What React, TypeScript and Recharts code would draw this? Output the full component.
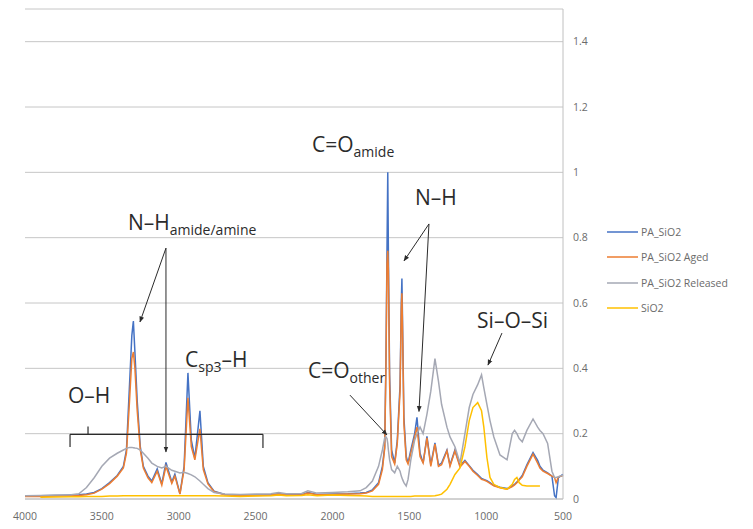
import {
  CartesianGrid,
  Line,
  LineChart,
  ReferenceDot,
  ReferenceLine,
  XAxis,
  YAxis,
} from 'recharts'

// wavenumber (cm-1) grid
const wavenumbers = [
  4000, 3900, 3800, 3700, 3650, 3600, 3550, 3500, 3450, 3400,
  3360, 3340, 3320, 3305, 3295, 3285, 3270, 3250, 3230, 3200,
  3175, 3140, 3110, 3083, 3045, 3025, 2992, 2965, 2940, 2918,
  2895, 2862, 2840, 2810, 2770, 2700, 2600, 2500, 2400, 2350,
  2300, 2200, 2160, 2100, 2000, 1900, 1820, 1780, 1740, 1700,
  1675, 1660, 1652, 1645, 1640, 1636, 1628, 1615, 1595, 1578,
  1560, 1552, 1548, 1544, 1535, 1520, 1508, 1490, 1465, 1450,
  1430, 1410, 1385, 1360, 1333, 1310, 1290, 1255, 1235, 1203,
  1170, 1138, 1110, 1086, 1055, 1030, 1015, 995, 975, 950,
  910, 864, 830, 815, 800, 785, 765, 735, 695, 665,
  650, 630, 600, 572, 555, 545, 530, 510, 500,
]

const paSiO2 = [
  0.010, 0.010, 0.011, 0.012, 0.013, 0.015, 0.020, 0.032, 0.050, 0.072,
  0.100, 0.150, 0.350, 0.500, 0.545, 0.450, 0.300, 0.160, 0.100, 0.070,
  0.055, 0.092, 0.046, 0.112, 0.052, 0.076, 0.016, 0.100, 0.386, 0.180,
  0.125, 0.270, 0.100, 0.050, 0.024, 0.014, 0.012, 0.012, 0.013, 0.016,
  0.013, 0.013, 0.020, 0.014, 0.015, 0.016, 0.018, 0.020, 0.028, 0.050,
  0.100, 0.160, 0.420, 0.760, 1.000, 0.760, 0.380, 0.150, 0.110, 0.180,
  0.350, 0.600, 0.675, 0.550, 0.250, 0.130, 0.110, 0.150, 0.200, 0.250,
  0.140, 0.110, 0.192, 0.105, 0.172, 0.104, 0.110, 0.150, 0.104, 0.150,
  0.102, 0.118, 0.102, 0.088, 0.075, 0.063, 0.060, 0.056, 0.050, 0.042,
  0.036, 0.032, 0.040, 0.045, 0.052, 0.060, 0.072, 0.105, 0.142, 0.118,
  0.100, 0.088, 0.080, 0.070, 0.010, 0.004, 0.065, 0.072, 0.075,
]

const paSiO2Aged = [
  0.008, 0.008, 0.009, 0.010, 0.011, 0.013, 0.018, 0.030, 0.047, 0.070,
  0.095, 0.140, 0.300, 0.430, 0.450, 0.400, 0.270, 0.150, 0.095, 0.065,
  0.050, 0.085, 0.042, 0.100, 0.048, 0.070, 0.015, 0.090, 0.310, 0.160,
  0.120, 0.215, 0.090, 0.046, 0.022, 0.013, 0.011, 0.011, 0.012, 0.015,
  0.012, 0.012, 0.018, 0.013, 0.014, 0.015, 0.016, 0.018, 0.025, 0.045,
  0.090, 0.155, 0.400, 0.720, 0.760, 0.700, 0.350, 0.130, 0.107, 0.170,
  0.330, 0.580, 0.630, 0.520, 0.230, 0.120, 0.107, 0.140, 0.190, 0.220,
  0.130, 0.110, 0.187, 0.100, 0.168, 0.100, 0.105, 0.147, 0.100, 0.147,
  0.098, 0.115, 0.100, 0.085, 0.072, 0.060, 0.058, 0.054, 0.048, 0.040,
  0.034, 0.030, 0.038, 0.043, 0.050, 0.058, 0.068, 0.100, 0.137, 0.110,
  0.095, 0.085, 0.078, 0.070, 0.066, 0.050, 0.068, 0.070, 0.072,
]

const paSiO2Released = [
  0.010, 0.011, 0.012, 0.013, 0.016, 0.035, 0.065, 0.100, 0.125, 0.140,
  0.150, 0.155, 0.158, 0.158, 0.157, 0.156, 0.155, 0.150, 0.140, 0.125,
  0.110, 0.100, 0.095, 0.100, 0.088, 0.085, 0.080, 0.082, 0.078, 0.074,
  0.068, 0.055, 0.045, 0.032, 0.020, 0.015, 0.014, 0.015, 0.016, 0.020,
  0.016, 0.017, 0.025, 0.018, 0.020, 0.022, 0.025, 0.035, 0.055, 0.100,
  0.150, 0.187, 0.190, 0.185, 0.170, 0.150, 0.120, 0.090, 0.080, 0.100,
  0.085, 0.070, 0.065, 0.060, 0.050, 0.040, 0.060, 0.120, 0.180, 0.200,
  0.220, 0.200, 0.260, 0.330, 0.430, 0.360, 0.290, 0.220, 0.190, 0.160,
  0.110, 0.200, 0.280, 0.320, 0.350, 0.380, 0.340, 0.290, 0.240, 0.190,
  0.135, 0.120, 0.200, 0.210, 0.200, 0.185, 0.175, 0.210, 0.245, 0.220,
  0.210, 0.200, 0.170, 0.085, 0.066, 0.066, 0.068, 0.072, 0.070,
]

const siO2 = [
  null, 0.005, 0.006, 0.007, 0.007, 0.008, 0.008, 0.008, 0.009, 0.009,
  0.010, 0.010, 0.010, 0.010, 0.010, 0.010, 0.010, 0.010, 0.010, 0.010,
  0.010, 0.010, 0.010, 0.010, 0.010, 0.010, 0.010, 0.010, 0.010, 0.010,
  0.010, 0.010, 0.010, 0.010, 0.010, 0.009, 0.008, 0.009, 0.010, 0.012,
  0.010, 0.011, 0.013, 0.010, 0.012, 0.011, 0.010, 0.009, 0.008, 0.008,
  0.008, 0.008, 0.008, 0.008, 0.008, 0.008, 0.008, 0.008, 0.008, 0.008,
  0.008, 0.008, 0.008, 0.008, 0.008, 0.008, 0.008, 0.008, 0.009, 0.009,
  0.009, 0.009, 0.009, 0.009, 0.010, 0.012, 0.015, 0.030, 0.045, 0.075,
  0.095, 0.160, 0.240, 0.280, 0.295, 0.270, 0.220, 0.127, 0.066, 0.045,
  0.035, 0.030, 0.045, 0.060, 0.066, 0.050, 0.042, 0.040, 0.040, 0.040,
  0.040, null, null, null, null, null, null, null, null,
]

const xTicks = [4000, 3500, 3000, 2500, 2000, 1500, 1000, 500]
const yTicks = [0, 0.2, 0.4, 0.6, 0.8, 1, 1.2, 1.4]

const series = [
  { key: 'pa', name: 'PA_SiO2', color: '#4472C4' },
  { key: 'aged', name: 'PA_SiO2 Aged', color: '#ED7D31' },
  { key: 'released', name: 'PA_SiO2 Released', color: '#A5A8B4' },
  { key: 'sio2', name: 'SiO2', color: '#FFC000' },
]

const data = wavenumbers.map((wn, i) => ({
  wn,
  pa: paSiO2[i],
  aged: paSiO2Aged[i],
  released: paSiO2Released[i],
  sio2: siO2[i],
}))

const FONT = '"Open Sans", sans-serif'
const INK = '#2b2b2b'

type Part = { t: string; sub?: boolean }

// label with optional subscripts, anchored at its left baseline
function Annot({ cx, cy, parts }: { cx: number; cy: number; parts: Part[] }) {
  let shift = 0
  return (
    <text x={cx} y={cy} fill={INK} fontFamily={FONT} fontSize={21}>
      {parts.map((p, i) => {
        const target = p.sub ? 5 : 0
        const dy = target - shift
        shift = target
        return (
          <tspan key={i} dy={dy} fontSize={p.sub ? 14 : 21}>
            {p.t}
          </tspan>
        )
      })}
    </text>
  )
}

function label(x: number, y: number, parts: Part[]) {
  return (
    <ReferenceDot
      x={x}
      y={y}
      r={0}
      ifOverflow="visible"
      shape={(p: any) => <Annot cx={p.cx} cy={p.cy} parts={parts} />}
    />
  )
}

function arrow(x1: number, y1: number, x2: number, y2: number) {
  return (
    <ReferenceLine
      segment={[
        { x: x1, y: y1 },
        { x: x2, y: y2 },
      ]}
      stroke={INK}
      strokeWidth={1}
      ifOverflow="visible"
      markerEnd="url(#arrowHead)"
    />
  )
}

function seg(x1: number, y1: number, x2: number, y2: number) {
  return (
    <ReferenceLine
      segment={[
        { x: x1, y: y1 },
        { x: x2, y: y2 },
      ]}
      stroke={INK}
      strokeWidth={1.2}
      ifOverflow="visible"
    />
  )
}

function LegendBox() {
  return (
    <div
      style={{
        position: 'absolute',
        left: 607,
        top: 219,
        fontFamily: FONT,
        fontSize: 10.5,
        color: '#6b6b6b',
      }}
    >
      {series.map((s) => (
        <div key={s.key} style={{ display: 'flex', alignItems: 'center', height: 25.5 }}>
          <svg width={31} height={4}>
            <line x1={0} y1={2} x2={31} y2={2} stroke={s.color} strokeWidth={1.5} />
          </svg>
          <span style={{ marginLeft: 3 }}>{s.name}</span>
        </div>
      ))}
    </div>
  )
}

export default function App() {
  return (
    <div style={{ position: 'absolute', left: 0, top: 0, width: 753, height: 529, background: '#fff' }}>
      <LineChart
        width={753}
        height={529}
        data={data}
        margin={{ top: 9, right: 150, left: 25, bottom: 0 }}
      >
        <defs>
          <marker
            id="arrowHead"
            viewBox="0 0 10 10"
            refX="9"
            refY="5"
            markerWidth="6"
            markerHeight="6"
            orient="auto"
          >
            <path d="M0,1 L10,5 L0,9 z" fill={INK} />
          </marker>
        </defs>
        <CartesianGrid vertical={false} stroke="#c6c6c6" strokeWidth={1} />
        <XAxis
          dataKey="wn"
          type="number"
          domain={[500, 4000]}
          reversed
          ticks={xTicks}
          interval={0}
          height={30}
          tickLine={false}
          tickMargin={8}
          axisLine={{ stroke: '#c0c0c0' }}
          tick={{ fontSize: 10.5, fill: '#6b6b6b', fontFamily: FONT }}
        />
        <YAxis
          orientation="right"
          type="number"
          domain={[0, 1.5]}
          ticks={yTicks}
          interval={0}
          width={40}
          tickLine={false}
          tickMargin={4}
          axisLine={{ stroke: '#c0c0c0' }}
          tick={{ fontSize: 10.5, fill: '#6b6b6b', fontFamily: FONT }}
        />
        {series.map((s) => (
          <Line
            key={s.key}
            type="linear"
            dataKey={s.key}
            name={s.name}
            stroke={s.color}
            strokeWidth={1.5}
            dot={false}
            isAnimationActive={false}
          />
        ))}

        {/* O-H bracket */}
        {seg(3707, 0.198, 2452, 0.198)}
        {seg(3707, 0.198, 3707, 0.159)}
        {seg(2452, 0.198, 2452, 0.156)}
        {seg(3590, 0.198, 3590, 0.222)}
        {label(3720, 0.294, [{ t: 'O–H' }])}

        {/* N-H amide/amine */}
        {arrow(3083, 0.768, 3252, 0.542)}
        {arrow(3083, 0.768, 3083, 0.144)}
        {label(3330, 0.823, [{ t: 'N–H' }, { t: 'amide/amine', sub: true }])}

        {label(2959, 0.404, [{ t: 'C' }, { t: 'sp3', sub: true }, { t: '–H' }])}

        {label(2133, 1.062, [{ t: 'C=O' }, { t: 'amide', sub: true }])}

        {/* N-H bend */}
        {arrow(1372, 0.842, 1534, 0.729)}
        {arrow(1372, 0.842, 1437, 0.268)}
        {label(1463, 0.9, [{ t: 'N–H' }])}

        {arrow(1886, 0.318, 1645, 0.196)}
        {label(2159, 0.37, [{ t: 'C=O' }, { t: 'other', sub: true }])}

        {arrow(897, 0.508, 988, 0.41)}
        {label(1059, 0.523, [{ t: 'Si–O–Si' }])}
      </LineChart>
      <LegendBox />
    </div>
  )
}
